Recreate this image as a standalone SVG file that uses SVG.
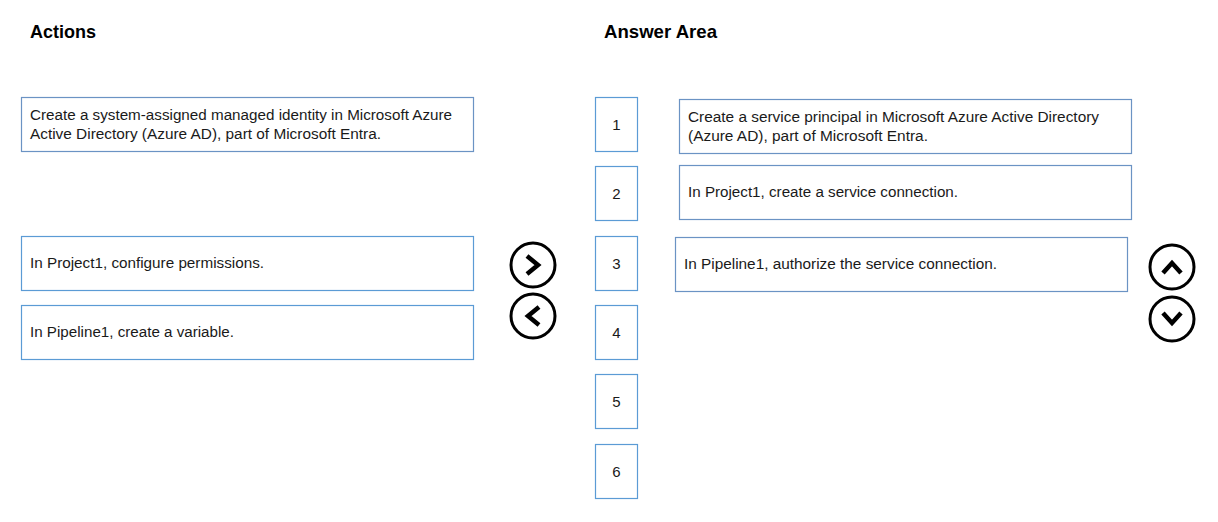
<svg xmlns="http://www.w3.org/2000/svg" width="1218" height="522" viewBox="0 0 1218 522">
<style>
.bg{fill:#ffffff}
.box{fill:#ffffff;stroke:#5b9bd5;stroke-width:1.2}
.abox{fill:#ffffff;stroke:#6b93c4;stroke-width:1.2}
.t{font-family:"Liberation Sans",Arial,sans-serif;font-size:15.5px;fill:#1a1a1a}
.n{font-family:"Liberation Sans",Arial,sans-serif;font-size:15px;fill:#1a1a1a;text-anchor:middle}
.h{font-family:"Liberation Sans",Arial,sans-serif;font-size:19px;font-weight:bold;fill:#000000}
.btn{fill:#ffffff;stroke:#000000;stroke-width:3}
.chev{fill:none;stroke:#000000;stroke-width:4.5;stroke-linecap:butt;stroke-linejoin:miter}
</style>
<rect class="bg" x="0" y="0" width="1218" height="522"/>
<g id="headings">
<text class="h" x="30" y="38" textLength="66" lengthAdjust="spacingAndGlyphs">Actions</text>
<text class="h" x="604" y="38" textLength="113" lengthAdjust="spacingAndGlyphs">Answer Area</text>
</g>
<g id="action1">
<rect class="abox" x="21.5" y="97.5" width="452" height="54"/>
<text class="t" x="30" y="120" textLength="422" lengthAdjust="spacingAndGlyphs">Create a system-assigned managed identity in Microsoft Azure</text>
<text class="t" x="30" y="139" textLength="351" lengthAdjust="spacingAndGlyphs">Active Directory (Azure AD), part of Microsoft Entra.</text>
</g>
<g id="action2">
<rect class="box" x="21.5" y="236.5" width="452" height="54"/>
<text class="t" x="30" y="268" textLength="234" lengthAdjust="spacingAndGlyphs">In Project1, configure permissions.</text>
</g>
<g id="action3">
<rect class="box" x="21.5" y="305.5" width="452" height="54"/>
<text class="t" x="30" y="337" textLength="204" lengthAdjust="spacingAndGlyphs">In Pipeline1, create a variable.</text>
</g>
<g id="btn-right">
<circle class="btn" cx="533" cy="265" r="22"/>
<polyline class="chev" points="527,256 538,265 527,274"/>
</g>
<g id="btn-left">
<circle class="btn" cx="533" cy="316" r="22"/>
<polyline class="chev" points="539,307 528,316 539,325"/>
</g>
<g id="slot1"><rect class="box" x="595.5" y="97.5" width="42" height="54"/><text class="n" x="616.5" y="130">1</text></g>
<g id="slot2"><rect class="box" x="595.5" y="166.5" width="42" height="54"/><text class="n" x="616.5" y="199">2</text></g>
<g id="slot3"><rect class="box" x="595.5" y="236.5" width="42" height="54"/><text class="n" x="616.5" y="269">3</text></g>
<g id="slot4"><rect class="box" x="595.5" y="305.5" width="42" height="54"/><text class="n" x="616.5" y="338">4</text></g>
<g id="slot5"><rect class="box" x="595.5" y="374.5" width="42" height="54"/><text class="n" x="616.5" y="407">5</text></g>
<g id="slot6"><rect class="box" x="595.5" y="444.5" width="42" height="54"/><text class="n" x="616.5" y="477">6</text></g>
<g id="answer1">
<rect class="abox" x="679.5" y="99.5" width="452" height="54"/>
<text class="t" x="688" y="122" textLength="411" lengthAdjust="spacingAndGlyphs">Create a service principal in Microsoft Azure Active Directory</text>
<text class="t" x="688" y="141" textLength="240" lengthAdjust="spacingAndGlyphs">(Azure AD), part of Microsoft Entra.</text>
</g>
<g id="answer2">
<rect class="abox" x="679.5" y="165.5" width="452" height="54"/>
<text class="t" x="688" y="197" textLength="270" lengthAdjust="spacingAndGlyphs">In Project1, create a service connection.</text>
</g>
<g id="answer3">
<rect class="abox" x="675.5" y="237.5" width="452" height="54"/>
<text class="t" x="684" y="269" textLength="313" lengthAdjust="spacingAndGlyphs">In Pipeline1, authorize the service connection.</text>
</g>
<g id="btn-up">
<circle class="btn" cx="1172" cy="267" r="22"/>
<polyline class="chev" points="1163,273 1172,263 1181,273"/>
</g>
<g id="btn-down">
<circle class="btn" cx="1172" cy="319" r="22"/>
<polyline class="chev" points="1163,313 1172,323 1181,313"/>
</g>
<g id="connectors"></g>
</svg>
